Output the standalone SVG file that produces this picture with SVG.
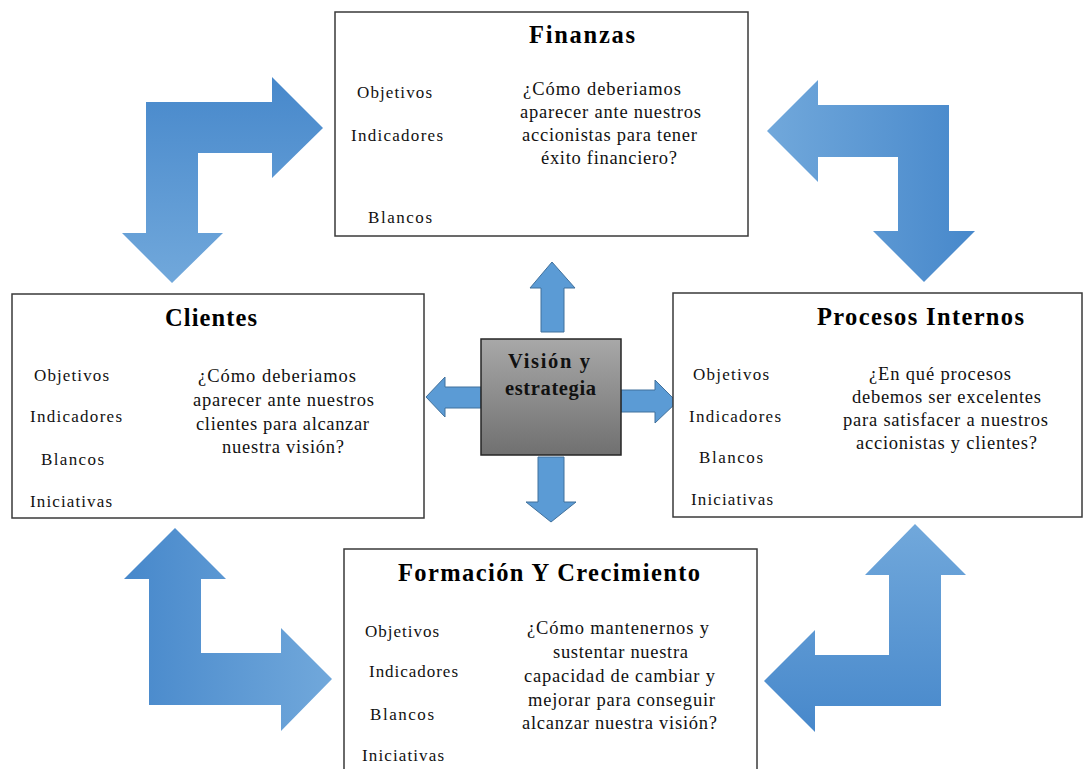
<svg xmlns="http://www.w3.org/2000/svg" width="1083" height="769" viewBox="0 0 1083 769">
  <style>
    .box { fill: #ffffff; stroke: #3a3a3a; stroke-width: 1.5; }
    .title { font-family: "Liberation Serif", "Times New Roman", serif; font-weight: bold; font-size: 24.5px; fill: #000; }
    .lbl { font-family: "Liberation Serif", "Times New Roman", serif; font-size: 17px; fill: #111; }
    .q { font-family: "Liberation Serif", "Times New Roman", serif; font-size: 18.5px; fill: #111; }
    .core { font-family: "Liberation Serif", "Times New Roman", serif; font-weight: bold; font-size: 20.5px; fill: #111; }
    .small { fill: #5b9bd5; stroke: #41719c; stroke-width: 1; }
  </style>
  <defs>
    <linearGradient id="gDown" x1="0" y1="0" x2="0" y2="1">
      <stop offset="0" stop-color="#4788cb"/>
      <stop offset="1" stop-color="#71a8db"/>
    </linearGradient>
    <linearGradient id="gUp" x1="0" y1="0" x2="0" y2="1">
      <stop offset="0" stop-color="#71a8db"/>
      <stop offset="1" stop-color="#4788cb"/>
    </linearGradient>
    <linearGradient id="gRight" x1="0" y1="0" x2="1" y2="0">
      <stop offset="0" stop-color="#4788cb"/>
      <stop offset="1" stop-color="#71a8db"/>
    </linearGradient>
    <linearGradient id="gLeft" x1="0" y1="0" x2="1" y2="0">
      <stop offset="0" stop-color="#71a8db"/>
      <stop offset="1" stop-color="#4788cb"/>
    </linearGradient>
    <linearGradient id="gGray" x1="0" y1="0" x2="0" y2="1">
      <stop offset="0" stop-color="#a8a8a8"/>
      <stop offset="1" stop-color="#707070"/>
    </linearGradient>
  </defs>

  <!-- connectors: bent corner arrows and the four small arrows around the core -->
  <g id="connectors">
    <polygon fill="url(#gDown)" points="146,102 272,102 272,77 323,128 272,178 272,153 198,153 198,233 223,233 172,283 122,233 146,233"/>
    <polygon fill="url(#gLeft)" points="767,131 818,80 818,105 949,105 949,231 975,231 924,282 873,231 898,231 898,157 818,157 818,182"/>
    <polygon fill="url(#gRight)" points="175,528 226,579 201,579 201,653 281,653 281,628 332,679 281,731 281,705 149,705 149,579 124,579"/>
    <polygon fill="url(#gUp)" points="915,524 966,575 941,575 941,706 815,706 815,732 764,681 815,630 815,655 889,655 889,575 865,575"/>

    <polygon class="small" points="552,262 575,288 564,288 564,332 541,332 541,288 530,288"/>
    <polygon class="small" points="426,397 445,377 445,387 481,387 481,408 445,408 445,417"/>
    <polygon class="small" points="677,402 655,380 655,390 621,390 621,412 655,412 655,423"/>
    <polygon class="small" points="551,522 576,502 564,502 564,457 538,457 538,502 526,502"/>
  </g>

  <g id="vision">
    <rect x="481" y="339" width="140" height="116" fill="url(#gGray)" stroke="#262626" stroke-width="1.5"/>
    <text class="core" x="508" y="368" textLength="82" lengthAdjust="spacing">Visión y</text>
    <text class="core" x="505" y="395" textLength="91" lengthAdjust="spacing">estrategia</text>
  </g>

  <g id="finanzas">
    <rect class="box" x="335" y="12" width="413" height="224"/>
    <text class="title" x="529" y="43" textLength="106" lengthAdjust="spacing">Finanzas</text>
    <text class="lbl" x="357" y="98" textLength="75" lengthAdjust="spacing">Objetivos</text>
    <text class="lbl" x="351" y="141" textLength="92" lengthAdjust="spacing">Indicadores</text>
    <text class="lbl" x="368" y="223" textLength="64" lengthAdjust="spacing">Blancos</text>
    <text class="q" x="523" y="95" textLength="158" lengthAdjust="spacing">¿Cómo deberiamos</text>
    <text class="q" x="520" y="118" textLength="181" lengthAdjust="spacing">aparecer ante nuestros</text>
    <text class="q" x="522" y="141" textLength="175" lengthAdjust="spacing">accionistas para tener</text>
    <text class="q" x="541" y="164" textLength="136" lengthAdjust="spacing">éxito financiero?</text>
  </g>

  <g id="clientes">
    <rect class="box" x="12" y="294" width="412" height="224"/>
    <text class="title" x="165" y="326" textLength="92" lengthAdjust="spacing">Clientes</text>
    <text class="lbl" x="34" y="381" textLength="75" lengthAdjust="spacing">Objetivos</text>
    <text class="lbl" x="30" y="422" textLength="92" lengthAdjust="spacing">Indicadores</text>
    <text class="lbl" x="41" y="465" textLength="63" lengthAdjust="spacing">Blancos</text>
    <text class="lbl" x="30" y="507" textLength="82" lengthAdjust="spacing">Iniciativas</text>
    <text class="q" x="198" y="382" textLength="158" lengthAdjust="spacing">¿Cómo deberiamos</text>
    <text class="q" x="193" y="406" textLength="181" lengthAdjust="spacing">aparecer ante nuestros</text>
    <text class="q" x="196" y="430" textLength="173" lengthAdjust="spacing">clientes para alcanzar</text>
    <text class="q" x="222" y="453" textLength="122" lengthAdjust="spacing">nuestra visión?</text>
  </g>

  <g id="procesos">
    <rect class="box" x="673" y="293" width="409" height="224"/>
    <text class="title" x="817" y="325" textLength="207" lengthAdjust="spacing">Procesos Internos</text>
    <text class="lbl" x="693" y="380" textLength="76" lengthAdjust="spacing">Objetivos</text>
    <text class="lbl" x="689" y="422" textLength="92" lengthAdjust="spacing">Indicadores</text>
    <text class="lbl" x="699" y="463" textLength="64" lengthAdjust="spacing">Blancos</text>
    <text class="lbl" x="691" y="505" textLength="82" lengthAdjust="spacing">Iniciativas</text>
    <text class="q" x="869" y="380" textLength="142" lengthAdjust="spacing">¿En qué procesos</text>
    <text class="q" x="852" y="403" textLength="189" lengthAdjust="spacing">debemos ser excelentes</text>
    <text class="q" x="843" y="426" textLength="205" lengthAdjust="spacing">para satisfacer a nuestros</text>
    <text class="q" x="856" y="449" textLength="181" lengthAdjust="spacing">accionistas y clientes?</text>
  </g>

  <g id="formacion">
    <rect class="box" x="344" y="549" width="413" height="230"/>
    <text class="title" x="398" y="581" textLength="302" lengthAdjust="spacing">Formación Y Crecimiento</text>
    <text class="lbl" x="365" y="637" textLength="74" lengthAdjust="spacing">Objetivos</text>
    <text class="lbl" x="369" y="677" textLength="89" lengthAdjust="spacing">Indicadores</text>
    <text class="lbl" x="370" y="720" textLength="64" lengthAdjust="spacing">Blancos</text>
    <text class="lbl" x="362" y="761" textLength="82" lengthAdjust="spacing">Iniciativas</text>
    <text class="q" x="527" y="634" textLength="182" lengthAdjust="spacing">¿Cómo mantenernos y</text>
    <text class="q" x="553" y="658" textLength="135" lengthAdjust="spacing">sustentar nuestra</text>
    <text class="q" x="524" y="682" textLength="191" lengthAdjust="spacing">capacidad de cambiar y</text>
    <text class="q" x="528" y="706" textLength="187" lengthAdjust="spacing">mejorar para conseguir</text>
    <text class="q" x="522" y="729" textLength="195" lengthAdjust="spacing">alcanzar nuestra visión?</text>
  </g>
</svg>
